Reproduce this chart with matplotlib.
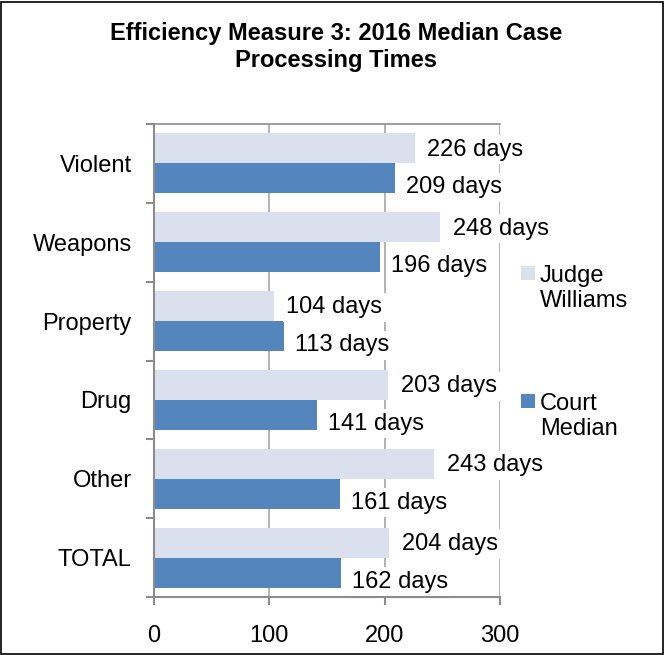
import numpy as np
import matplotlib.pyplot as plt
from matplotlib.patches import Rectangle

categories = ['Violent', 'Weapons', 'Property', 'Drug', 'Other', 'TOTAL']
judge = [226, 248, 104, 203, 243, 204]
court = [209, 196, 113, 141, 161, 162]
series_names = ['Judge\nWilliams', 'Court\nMedian']
xticks = [0, 100, 200, 300]

c_judge = '#dbe0ef'
c_court = '#5585bd'
grey = '#8c8c8c'

plt.rcParams['font.family'] = ['Liberation Sans', 'DejaVu Sans']
FS = 17

W, H = 665, 655
fig = plt.figure(figsize=(W / 100, H / 100), dpi=100)
ax = fig.add_axes([154 / W, (H - 597) / H, 346 / W, 473 / H])

y = np.arange(len(categories))
bh = 0.38
ax.barh(y - bh / 2, judge, height=bh, color=c_judge, zorder=2)
ax.barh(y + bh / 2, court, height=bh, color=c_court, zorder=2)

for i, v in enumerate(judge):
    ax.annotate(f'{v} days', (v, i - bh / 2), xytext=(9, -1), textcoords='offset points',
                ha='left', va='center', fontsize=FS, zorder=4,
                bbox=dict(boxstyle='square,pad=0.15', fc='white', ec='none'))
for i, v in enumerate(court):
    ax.annotate(f'{v} days', (v, i + bh / 2), xytext=(8, -6.5), textcoords='offset points',
                ha='left', va='center', fontsize=FS, zorder=4,
                bbox=dict(boxstyle='square,pad=0.15', fc='white', ec='none'))

ax.set_xlim(0, 300)
ax.set_ylim(len(categories) - 0.5, -0.5)
ax.set_xticks(xticks)
ax.set_xticklabels([str(t) for t in xticks], fontsize=FS)
ax.set_yticks(y)
ax.set_yticklabels(categories, fontsize=FS)
ax.set_yticks(np.arange(len(categories) + 1) - 0.5, minor=True)
ax.tick_params(axis='y', which='major', length=0, pad=16)
ax.tick_params(axis='y', which='minor', length=6, color=grey, width=1.5, direction='out')
ax.tick_params(axis='x', length=6, color=grey, width=1.5, direction='out', pad=14)

ax.grid(axis='x', color='#a6a6a6', linewidth=1.2, zorder=1)
ax.set_axisbelow(True)
for s in ['left', 'bottom']:
    ax.spines[s].set_color(grey)
    ax.spines[s].set_linewidth(1.5)
ax.spines['top'].set_color(grey)
ax.spines['top'].set_linewidth(1.2)
ax.spines['right'].set_visible(False)

fig.text(0.506, 1 - 47 / H, 'Efficiency Measure 3: 2016 Median Case\nProcessing Times',
         ha='center', va='center', fontsize=17, fontweight='bold', linespacing=1.2)

# legend
for name, col, ytop in [(series_names[0], c_judge, 266), (series_names[1], c_court, 394)]:
    fig.patches.append(Rectangle((521 / W, 1 - (ytop + 14) / H), 14 / W, 14 / H,
                                 transform=fig.transFigure, fc=col, ec='none'))
    fig.text(540 / W, 1 - (ytop - 1) / H, name, ha='left', va='top', fontsize=FS,
             linespacing=1.18)

fig.patches.append(Rectangle((1 / W, 1 / H), (W - 3) / W, (H - 3) / H,
                             transform=fig.transFigure, fill=False, ec='black', lw=1.2))

fig.savefig('out.png', dpi=100)
